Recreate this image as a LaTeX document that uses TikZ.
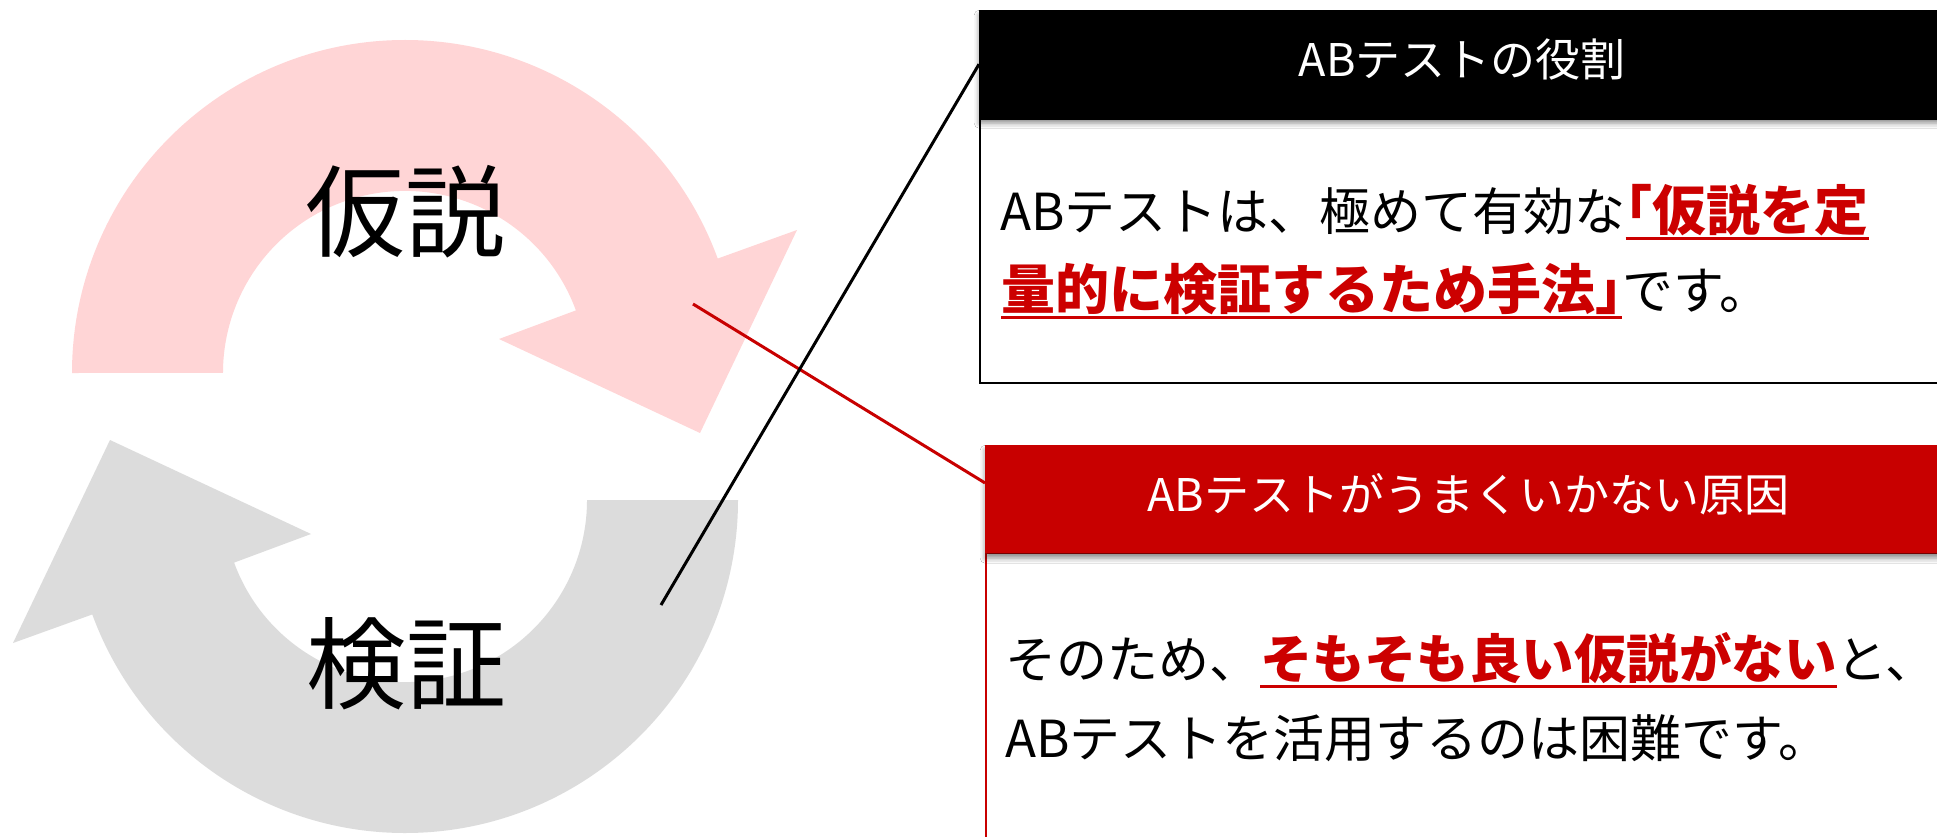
\documentclass[tikz,border=0pt]{standalone}
\usepackage{fontspec}
\usetikzlibrary{calc,shadows.blur}
\newfontfamily\jp{Noto Sans CJK JP}
\definecolor{pinkA}{HTML}{FFD5D6}
\definecolor{grayA}{HTML}{DCDCDC}
\definecolor{redA}{HTML}{C80000}
\definecolor{redT}{HTML}{CC0000}
\newcommand\myul[1]{\setbox0\hbox{#1}\rlap{\rule[-9.5pt]{\wd0}{3pt}}\box0}
\newcommand\hl[2]{{\color{redT}\bfseries\fontsize{#1}{#1}\selectfont\myul{#2}}}
\newcommand\hb[1]{{\addfontfeature{RawFeature=+halt}#1}}
\begin{document}
\begin{tikzpicture}[x=1pt,y=-1pt,
  bigtxt/.style={font=\jp\fontsize{100}{100}\selectfont, inner sep=0pt},
  hdrbox/.style={anchor=north west, minimum width=966pt, minimum height=108pt, inner sep=0pt,
     text=white, font=\jp\fontsize{45}{45}\selectfont, text height=36pt, text depth=12pt,
     blur shadow={shadow xshift=0pt, shadow yshift=-5pt, shadow blur radius=5pt, shadow opacity=45}},
  bodybox/.style={anchor=north west, minimum width=966pt, inner sep=0pt, line width=2pt, fill=white},
  txt/.style={anchor=base west, inner sep=0pt, font=\jp\fontsize{51}{51}\selectfont},
  link/.style={line width=3pt}
]
\useasboundingbox (0,0) rectangle (1937,837);
\clip (0,0) rectangle (1937,837);
\fill[white] (0,0) rectangle (1937,837);

% cycle arrows
\fill[pinkA] (72,373) arc[start angle=180,end angle=339.9,radius=333]
  -- (797,230) -- (700,433) -- (499,339) -- (575.9,310.4)
  arc[start angle=339.9,end angle=180,radius=182] -- cycle;
\fill[grayA, rotate around={180:(405,436.5)}] (72,373) arc[start angle=180,end angle=339.9,radius=333]
  -- (797,230) -- (700,433) -- (499,339) -- (575.9,310.4)
  arc[start angle=339.9,end angle=180,radius=182] -- cycle;

\node[bigtxt] (kasetsu) at (405,212) {仮説};
\node[bigtxt] (kensho) at (406,664) {検証};

% box A
\node[bodybox, draw=black, minimum height=264pt] (bodyA) at (979,118) {};
\node[hdrbox, fill=black] (hdrA) at (979,10) {ABテストの役割};
\node[txt] (lA1) at (1000,230) {ABテストは、極めて有効な\hl{54}{\hb{「}仮説を定}};
\node[txt] (lA2) at (1001,309) {\hl{54}{量的に検証するため手法\hb{」}}です。};

% box B
\node[bodybox, draw=redA, minimum height=400pt] (bodyB) at (985,552) {};
\node[hdrbox, fill=redA] (hdrB) at (985,445) {ABテストがうまくいかない原因};
\node[txt] (lB1) at (1005,678) {そのため、\hl{52.5}{そもそも良い仮説がない}と、};
\node[txt] (lB2) at (1005,757) {ABテストを活用するのは困難です。};

% connectors
\coordinate (pA) at (661,605);
\coordinate (pB) at (693,304);
\draw[link, redA] (pB) -- ($(hdrB.north west)!0.35!(hdrB.south west)$);
\draw[link, black] (pA) -- (hdrA.west);
\end{tikzpicture}
\end{document}
